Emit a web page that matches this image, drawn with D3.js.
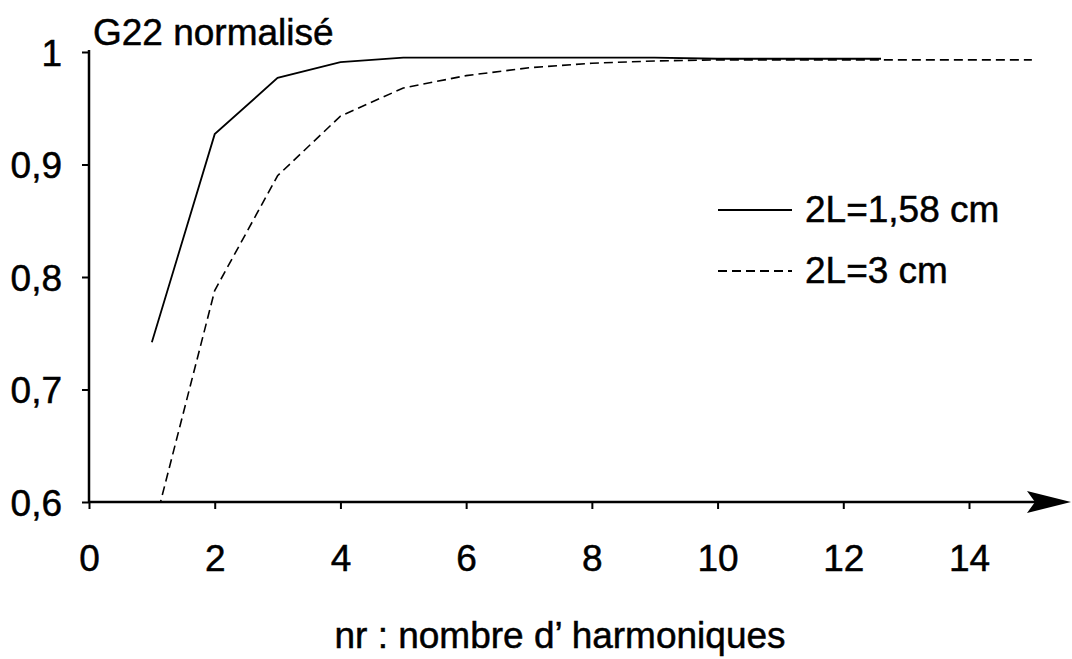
<!DOCTYPE html>
<html>
<head>
<meta charset="utf-8">
<script src="https://cdn.jsdelivr.net/npm/d3@7"></script>
<style>
  html, body { margin: 0; padding: 0; background: #fff; }
  svg { display: block; font-family: "Liberation Sans", Arial, Helvetica, sans-serif; }
  svg text { stroke: #000; stroke-width: 0.5px; fill: #000; }
</style>
</head>
<body>
<svg id="chart" width="1072" height="659"></svg>
<script>
// ---- data ----
const solidN      = [1, 2, 3, 4, 5, 6, 7, 8, 9, 10, 11, 12, 12.6];
const solidValues = [0.742, 0.927, 0.977, 0.991, 0.995, 0.995, 0.995, 0.995, 0.995, 0.994, 0.994, 0.994, 0.994];
const dashedN      = [1, 2, 3, 4, 5, 6, 7, 8, 9, 10, 11, 12, 13, 14, 15];
const dashedValues = [0.57, 0.788, 0.890, 0.943, 0.968, 0.979, 0.986, 0.990, 0.992, 0.993, 0.993, 0.993, 0.993, 0.993, 0.993];
const xTicks = [0, 2, 4, 6, 8, 10, 12, 14];
const yTicks = [0.6, 0.7, 0.8, 0.9, 1];
const seriesLabels = ["2L=1,58 cm", "2L=3 cm"];
const yTitle = "G22 normalisé";
const xTitle = "nr : nombre d\u2019 harmoniques";

// ---- layout ----
const svg = d3.select("#chart");
const x = d3.scaleLinear().domain([0, 14]).range([89, 969]);
const y = d3.scaleLinear().domain([0.6, 1]).range([502, 52]);
const axisEnd = 1071;
const FS = 37;

svg.append("defs").append("clipPath").attr("id", "plotclip")
  .append("rect").attr("x", x(0)).attr("y", 0).attr("width", 1072).attr("height", y(0.6));

// x axis with arrow
const gx = svg.append("g").attr("transform", `translate(0,${y(0.6)})`);
gx.call(d3.axisBottom(x).tickValues(xTicks).tickSize(7).tickPadding(36).tickFormat(d3.format("d")));
gx.select(".domain").remove();
gx.selectAll(".tick line").attr("stroke", "#000").attr("stroke-width", 2);
gx.selectAll(".tick text").attr("font-size", FS)
  .attr("font-family", "Liberation Sans, Arial, sans-serif");
gx.append("line").attr("x1", x(0)).attr("x2", axisEnd - 30).attr("y1", 0).attr("y2", 0)
  .attr("stroke", "#000").attr("stroke-width", 2.5);
gx.append("path")
  .attr("d", `M${axisEnd},0 L${axisEnd - 44},-11 L${axisEnd - 36},0 L${axisEnd - 44},11 Z`)
  .attr("fill", "#000");

// y axis
const gy = svg.append("g").attr("transform", `translate(${x(0)},0)`);
gy.call(d3.axisLeft(y).tickValues(yTicks).tickSize(7).tickPadding(20)
  .tickFormat(d => d === 1 ? "1" : d3.format(".1f")(d).replace(".", ",")));
gy.select(".domain").remove();
gy.append("line").attr("x1", 0).attr("x2", 0).attr("y1", y(1) - 2).attr("y2", y(0.6))
  .attr("stroke", "#000").attr("stroke-width", 2.5);
gy.selectAll(".tick line").attr("stroke", "#000").attr("stroke-width", 2);
gy.selectAll(".tick text").attr("font-size", FS)
  .attr("font-family", "Liberation Sans, Arial, sans-serif").attr("dy", "0.36em");

// title
svg.append("text").attr("x", x(0) + 4).attr("y", 45).attr("font-size", FS)
  .text(yTitle);

// x-axis title
svg.append("text").attr("x", 560).attr("y", 648).attr("text-anchor", "middle")
  .attr("font-size", FS).text(xTitle);

// curves
const line = d3.line().x(d => x(d[0])).y(d => y(d[1]));
const plot = svg.append("g").attr("clip-path", "url(#plotclip)");
plot.append("path").datum(d3.zip(dashedN, dashedValues)).attr("d", line)
  .attr("fill", "none").attr("stroke", "#000").attr("stroke-width", 1.6)
  .attr("stroke-dasharray", "9,5");
plot.append("path").datum(d3.zip(solidN, solidValues)).attr("d", line)
  .attr("fill", "none").attr("stroke", "#000").attr("stroke-width", 1.8);

// legend
const leg = svg.append("g");
const legRows = [{label: seriesLabels[0], dash: null, ly: 210, ty: 222},
                 {label: seriesLabels[1], dash: "9,5", ly: 271, ty: 283}];
legRows.forEach(r => {
  leg.append("line").attr("x1", 718).attr("x2", 792).attr("y1", r.ly).attr("y2", r.ly)
    .attr("stroke", "#000").attr("stroke-width", 1.8)
    .attr("stroke-dasharray", r.dash);
  leg.append("text").attr("x", 805).attr("y", r.ty).attr("font-size", FS)
    .text(r.label);
});
</script>
</body>
</html>
